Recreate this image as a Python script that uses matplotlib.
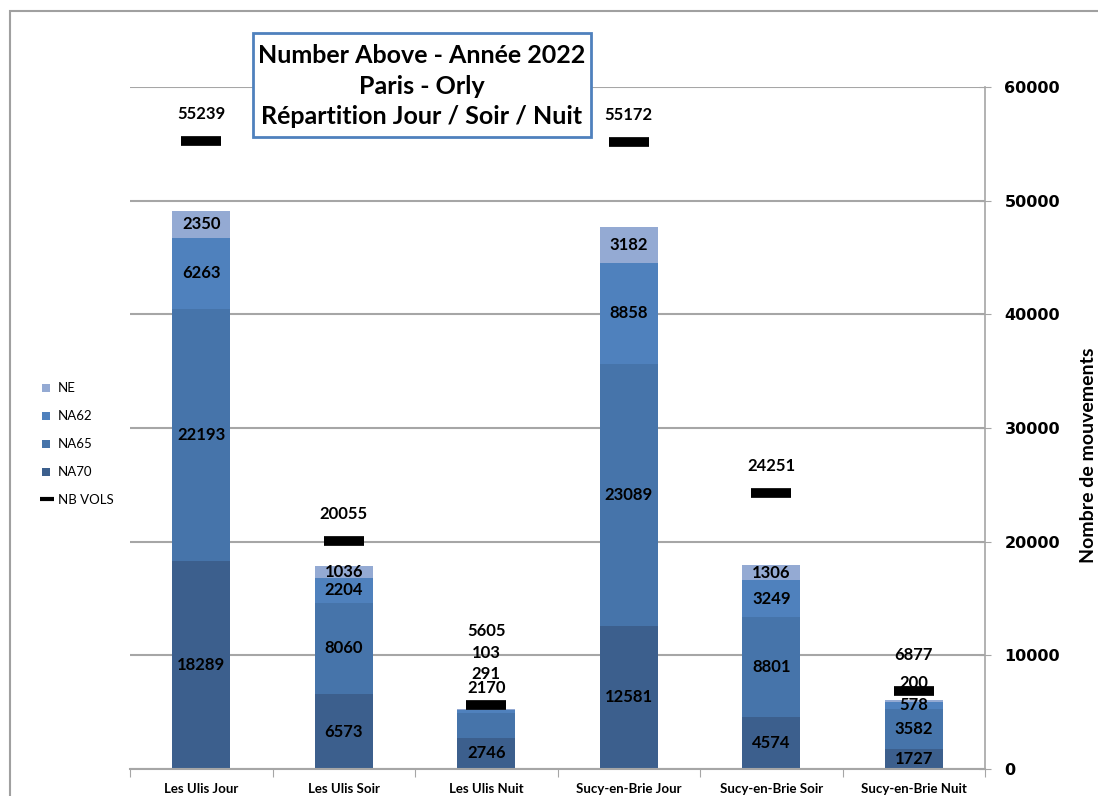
import matplotlib.pyplot as plt
from matplotlib.patches import Rectangle
import numpy as np

categories = ['Les Ulis Jour', 'Les Ulis Soir', 'Les Ulis Nuit',
              'Sucy-en-Brie Jour', 'Sucy-en-Brie Soir', 'Sucy-en-Brie Nuit']
na70 = [18289, 6573, 2746, 12581, 4574, 1727]
na65 = [22193, 8060, 2170, 23089, 8801, 3582]
na62 = [6263, 2204, 291, 8858, 3249, 578]
ne = [2350, 1036, 103, 3182, 1306, 200]
nb_vols = [55239, 20055, 5605, 55172, 24251, 6877]

series = [('NA70', na70, '#3c5f8d'),
          ('NA65', na65, '#4674aa'),
          ('NA62', na62, '#4f81bd'),
          ('NE', ne, '#94aad3')]

# label positions moved above small segments (as on the original chart)
label_y = {('NA65', 2): 7100, ('NA62', 2): 8400, ('NE', 2): 10200,
           ('NE', 5): 7600}
vols_label_y = {2: 12100, 5: 10000}

lab_font = 'Lato'

fig = plt.figure(figsize=(10.98, 7.96), dpi=100)
ax = fig.add_axes([130 / 1098, 1 - 769 / 796, 855 / 1098, 682 / 796])

x = np.arange(len(categories))
bottom = np.zeros(len(categories))
handles = {}
for name, vals, col in series:
    vals = np.array(vals)
    h = ax.bar(x, vals, 0.41, bottom=bottom, color=col, zorder=2)
    handles[name] = h
    for i, v in enumerate(vals):
        y = label_y.get((name, i), bottom[i] + v / 2)
        ax.text(x[i], y, str(v), ha='center', va='center', fontsize=12,
                fontweight='bold', family=lab_font, zorder=4)
    bottom += vals

vl, = ax.plot(x, nb_vols, ls='none', marker='_', ms=29, mew=7, color='black', zorder=3)
for i, v in enumerate(nb_vols):
    ax.text(x[i], vols_label_y.get(i, v + 2400), str(v), ha='center', va='center',
            fontsize=12, family=lab_font, fontweight='bold', zorder=4)

ax.set_xlim(-0.5, 5.5)
ax.set_ylim(0, 60000)
ax.set_yticks(np.arange(0, 60001, 10000))
ax.yaxis.tick_right()
ax.yaxis.set_label_position('right')
ax.grid(axis='y', color='#a6a6a6', lw=1.5, zorder=0)
for s in ['top', 'left']:
    ax.spines[s].set_visible(False)
ax.spines['right'].set_color('#a6a6a6')
ax.spines['bottom'].set_color('#a6a6a6')
ax.spines['right'].set_linewidth(1.2)
ax.spines['bottom'].set_linewidth(1.5)
ax.tick_params(axis='y', direction='inout', length=8, color='#a6a6a6', pad=10,
               labelsize=11.5)
for t in ax.get_yticklabels():
    t.set_fontweight('bold')
ax.set_xticks(np.arange(-0.5, 6, 1))
ax.set_xticklabels([])
ax.tick_params(axis='x', direction='out', length=6, color='#a6a6a6')
ax.set_xticks(x, minor=True)
ax.set_xticklabels(categories, minor=True, fontsize=9.5, fontweight='bold', family=lab_font)
ax.tick_params(axis='x', which='minor', length=0, pad=10)
ax.set_ylabel('Nombre de mouvements', fontsize=14, fontweight='bold', family=lab_font)
ax.yaxis.set_label_coords((1080 - 130) / 855, (769 - 455) / 682)

leg = fig.legend([handles['NE'], handles['NA62'], handles['NA65'], handles['NA70'], vl],
                 ['NE', 'NA62', 'NA65', 'NA70', 'NB VOLS'],
                 loc='center left', bbox_to_anchor=(30 / 1098, 1 - 444 / 796),
                 frameon=False, labelspacing=1.2, handlelength=0.8,
                 handletextpad=0.4, prop={'family': lab_font, 'size': 9.5})
for lh in leg.legend_handles[:4]:
    lh.set_height(6)
    lh.set_width(6)
leg.legend_handles[4].set_markersize(10)
leg.legend_handles[4].set_markeredgewidth(3)

# title box
fig.patches.append(Rectangle((253 / 1098, 1 - 137 / 796), 338 / 1098, 104 / 796,
                             transform=fig.transFigure, fill=True, facecolor='white',
                             edgecolor='#4f81bd', lw=2, zorder=5))
fig.text(422 / 1098, 1 - 86 / 796, 'Number Above - Année 2022\nParis - Orly\nRépartition Jour / Soir / Nuit',
         ha='center', va='center', fontsize=18, fontweight='bold', family=lab_font,
         linespacing=1.4, zorder=6)

# outer chart frame
fig.patches.append(Rectangle((10 / 1098, -0.1), 1.2, 1.1 - 11 / 796,
                             transform=fig.transFigure, fill=False,
                             edgecolor='#a0a0a0', lw=1.5))

fig.savefig('out.png', dpi=100)
